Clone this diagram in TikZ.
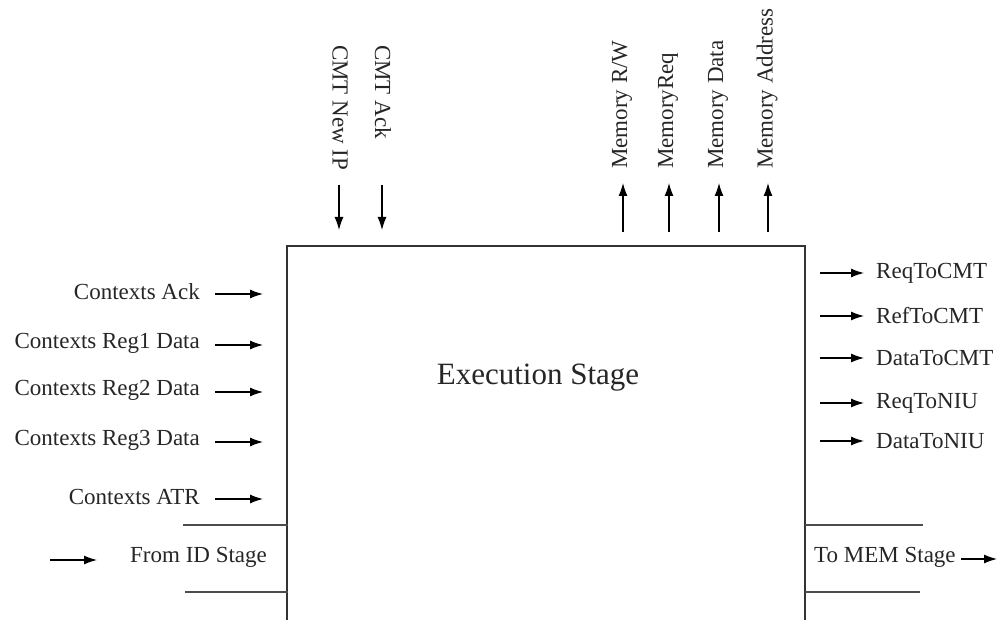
\documentclass[tikz,border=0pt]{standalone}
\usepackage{fontspec}
\setmainfont{Liberation Serif}
\usetikzlibrary{arrows.meta}
\begin{document}
\begin{tikzpicture}[x=1pt,y=-1pt,
  lbl/.style={inner sep=0pt,font=\fontsize{23}{23}\selectfont,text=black!85},
  sig/.style={line width=1.2pt,-{Latex[length=13pt,width=9pt]}},
  wall/.style={line width=1.4pt,draw=black!80},
  bus/.style={line width=1.1pt,draw=black!70}]
\useasboundingbox (0,0) rectangle (998,620);

% stage outline (bottom edge lies below the page)
\coordinate (bl) at (287,622);
\coordinate (tl) at (287,246);
\coordinate (tr) at (805,246);
\coordinate (br) at (805,622);
\draw[wall] (bl) -- (tl) -- (tr) -- (br);
\node[font=\fontsize{31}{31}\selectfont,inner sep=0pt,text=black!85] (title) at (538,378) {Execution Stage};

% inputs on the left
\foreach \n/\y/\t in {ack/292/Contexts Ack, r1/343/Contexts Reg1 Data, r2/390/Contexts Reg2 Data, r3/440/Contexts Reg3 Data, atr/497/Contexts ATR}{
  \node[lbl,anchor=east] (\n) at (200,\y) {\t};
  \coordinate (\n s) at (215,\y+2);
  \coordinate (\n e) at (263,\y+2);
  \draw[sig] (\n s) -- (\n e);
}

% pipeline input bus
\coordinate (ia1) at (183,525); \coordinate (ib1) at (288,525);
\coordinate (ia2) at (185,592); \coordinate (ib2) at (288,592);
\draw[bus] (ia1) -- (ib1);
\draw[bus] (ia2) -- (ib2);
\node[lbl,anchor=west] (fromid) at (130,557) {From ID Stage};
\coordinate (ids) at (50,560); \coordinate (ide) at (97,560);
\draw[sig] (ids) -- (ide);

% outputs on the right
\foreach \n/\y/\t in {reqc/273/ReqToCMT, refc/316/RefToCMT, datc/358/DataToCMT, reqn/403/ReqToNIU, datn/441/DataToNIU}{
  \coordinate (\n s) at (820,\y);
  \coordinate (\n e) at (864,\y);
  \draw[sig] (\n s) -- (\n e);
  \node[lbl,anchor=west] (\n) at (876,\y) {\t};
}

% pipeline output bus
\coordinate (oa1) at (805,525); \coordinate (ob1) at (923,525);
\coordinate (oa2) at (805,592); \coordinate (ob2) at (920,592);
\draw[bus] (oa1) -- (ob1);
\draw[bus] (oa2) -- (ob2);
\node[lbl,anchor=west] (tomem) at (814,557) {To MEM Stage};
\coordinate (tms) at (961,559); \coordinate (tme) at (997,559);
\draw[sig] (tms) -- (tme);

% signals from the CMT (downward)
\foreach \n/\x/\t in {newip/340/CMT New IP, cack/383/CMT Ack}{
  \node[lbl,rotate=-90,anchor=west] (\n) at (\x,45) {\t};
  \coordinate (\n s) at (\x-1,185);
  \coordinate (\n e) at (\x-1,230);
  \draw[sig] (\n s) -- (\n e);
}

% memory interface (upward)
\foreach \n/\x/\t in {mrw/622/{Memory R/W}, mreq/668/MemoryReq, mdat/718/Memory Data, madr/767/Memory Address}{
  \node[lbl,rotate=90,anchor=west] (\n) at (\x,169) {\t};
  \coordinate (\n s) at (\x+1,232);
  \coordinate (\n e) at (\x+1,183);
  \draw[sig] (\n s) -- (\n e);
}
\end{tikzpicture}
\end{document}
